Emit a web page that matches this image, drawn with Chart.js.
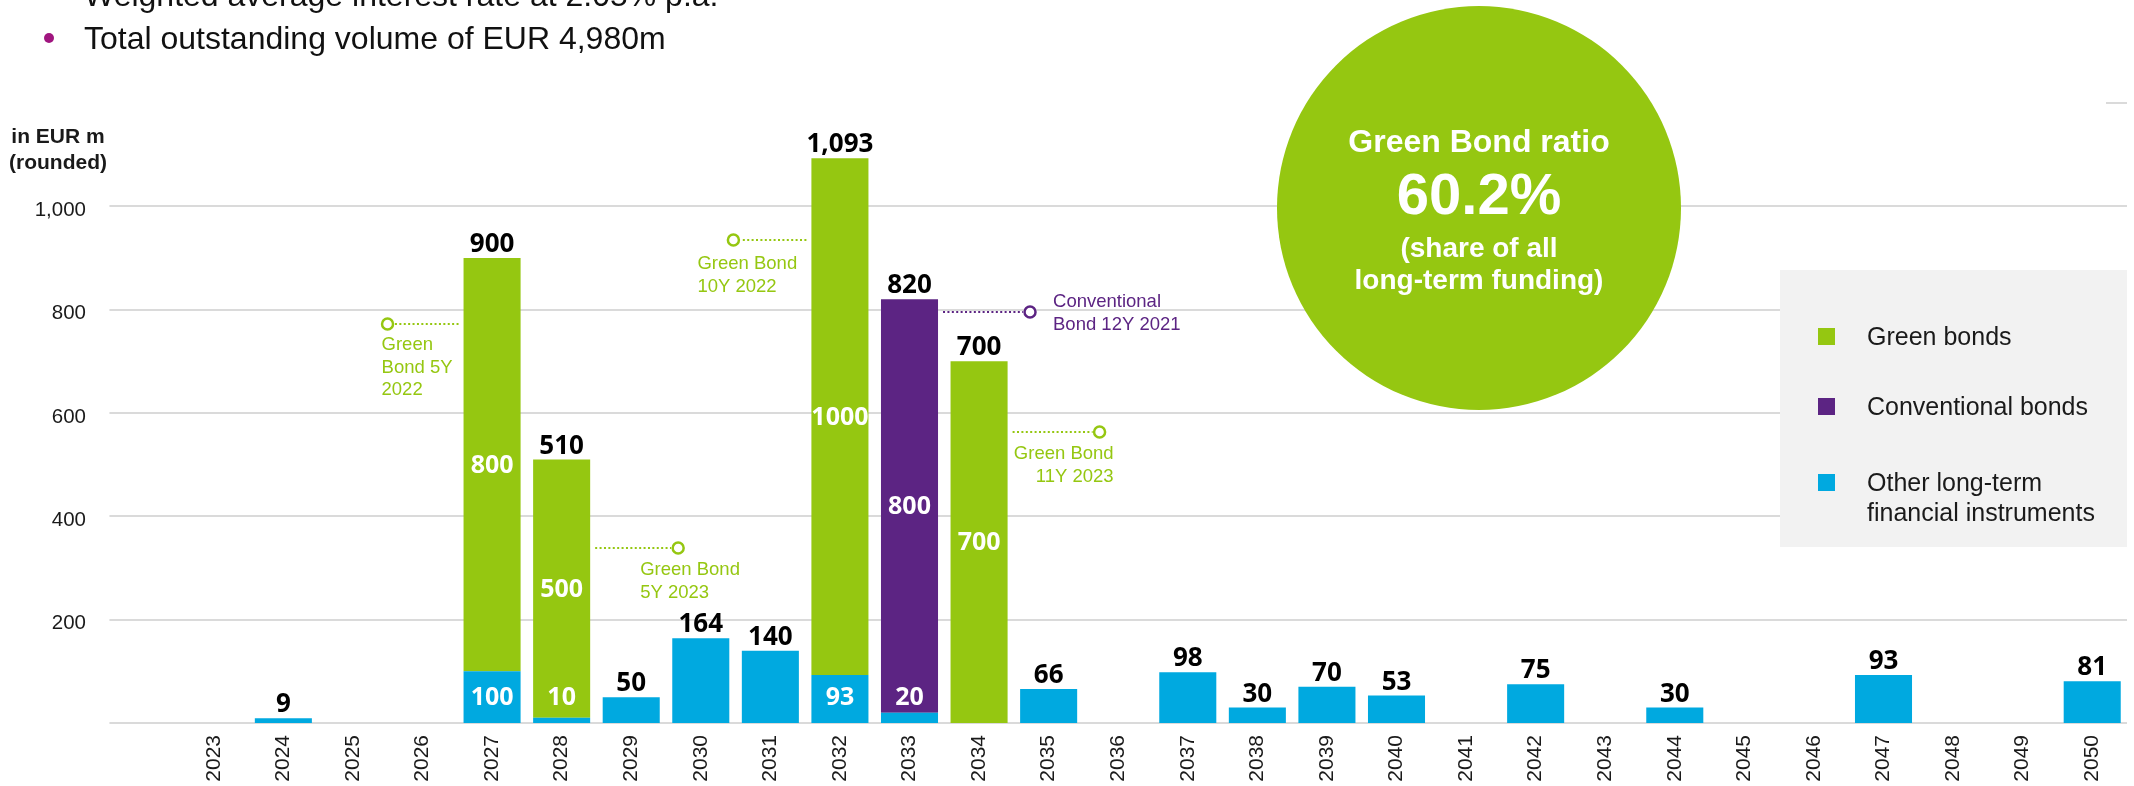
<!DOCTYPE html>
<html>
<head>
<meta charset="utf-8">
<title>Maturity profile of long-term funding</title>
<script src="https://cdn.jsdelivr.net/npm/chart.js@4/dist/chart.umd.min.js"></script>
<style>
  html, body { margin: 0; padding: 0; background: #ffffff; overflow: hidden; }
  #wrap { position: relative; width: 2134px; height: 786px; }
</style>
</head>
<body>
<div id="wrap"><canvas id="chart" width="2134" height="786"></canvas></div>
<script>
// ---- data (EUR m, rounded) ----
const years = ['2023','2024','2025','2026','2027','2028','2029','2030','2031','2032','2033','2034','2035','2036',
               '2037','2038','2039','2040','2041','2042','2043','2044','2045','2046','2047','2048','2049','2050'];
const otherInstruments = [null, 9, null, null, 100, 10, 50, 164, 140, 93, 20, null, 66, null,
                          98, 30, 70, 53, null, 75, null, 30, null, null, 93, null, null, 81];
const greenBonds = [null, null, null, null, 800, 500, null, null, null, 1000, null, 700, null, null,
                    null, null, null, null, null, null, null, null, null, null, null, null, null, null];
const conventionalBonds = [null, null, null, null, null, null, null, null, null, null, 800, null, null, null,
                           null, null, null, null, null, null, null, null, null, null, null, null, null, null];
const yTickValues = [200, 400, 600, 800, 1000];
const greenBondRatio = '60.2%';
const headerLines = ['Weighted average interest rate at 2.05% p.a.', 'Total outstanding volume of EUR 4,980m'];

// ---- styling ----
const GREEN = '#95c711';
const PURPLE = '#5c2483';
const BLUE = '#00a9e0';
const GRID = '#dadada';
const INK = '#1a1a1a';
const SANS = '"Liberation Sans", Arial, sans-serif';
const NUM = '"Open Sans", "Liberation Sans", sans-serif';

// Callouts for the individual bond issues, anchored to a bar edge and a y value
const bondNotes = [
  { year: '2027', value: 772, side: 'left',  reach: 76, color: GREEN,  lines: ['Green', 'Bond 5Y', '2022'],
    textDx: -6, textDy: 21, align: 'left' },
  { year: '2028', value: 339, side: 'right', reach: 88, color: GREEN,  lines: ['Green Bond', '5Y 2023'],
    textDx: -38, textDy: 22, align: 'left' },
  { year: '2032', value: 935, side: 'left',  reach: 78, color: GREEN,  lines: ['Green Bond', '10Y 2022'],
    textDx: -36, textDy: 24, align: 'left' },
  { year: '2033', value: 795, side: 'right', reach: 92, color: PURPLE, lines: ['Conventional', 'Bond 12Y 2021'],
    textDx: 23, textDy: -10, align: 'left' },
  { year: '2034', value: 563, side: 'right', reach: 92, color: GREEN,  lines: ['Green Bond', '11Y 2023'],
    textDx: 14, textDy: 22, align: 'right' }
];

const fmt = v => v.toLocaleString('en-US');

// Horizontal grid, extended one category slot to the left of the first year
const gridPlugin = {
  id: 'gridPlugin',
  beforeDatasetsDraw(chart) {
    const { ctx, chartArea, scales: { y } } = chart;
    const step = (chartArea.right - chartArea.left) / years.length;
    const left = chartArea.left - step;
    ctx.save();
    ctx.strokeStyle = GRID;
    ctx.lineWidth = 2;
    [0, ...yTickValues].forEach(v => {
      const py = Math.round(y.getPixelForValue(v));
      ctx.beginPath();
      ctx.moveTo(left, py);
      ctx.lineTo(chartArea.right, py);
      ctx.stroke();
    });
    const top = Math.round(y.getPixelForValue(1200));
    ctx.beginPath();
    ctx.moveTo(chartArea.right - 21, top);
    ctx.lineTo(chartArea.right, top);
    ctx.stroke();
    ctx.restore();
  }
};

// Totals above each bar and segment values inside the bond bars
const valueLabels = {
  id: 'valueLabels',
  afterDatasetsDraw(chart) {
    const { ctx, scales: { x, y } } = chart;
    ctx.save();
    ctx.textAlign = 'center';
    years.forEach((yr, i) => {
      const parts = chart.data.datasets.map(ds => ds.data[i] || 0);
      const total = parts.reduce((a, b) => a + b, 0);
      if (!total) return;
      const px = x.getPixelForValue(i);
      ctx.fillStyle = '#000';
      ctx.font = `bold 26px ${NUM}`;
      ctx.textBaseline = 'alphabetic';
      ctx.fillText(fmt(total), px, y.getPixelForValue(total) - 6);
      const hasBond = (greenBonds[i] || 0) + (conventionalBonds[i] || 0) > 0;
      if (!hasBond) return;
      ctx.fillStyle = '#ffffff';
      ctx.font = `bold 25px ${NUM}`;
      ctx.textBaseline = 'middle';
      let base = 0;
      parts.forEach((v, k) => {
        if (!v) return;
        const mid = k === 0 ? Math.max(v / 2, 50) : base + v / 2;
        ctx.fillText(String(v), px, y.getPixelForValue(mid) + 1);
        base += v;
      });
    });
    ctx.restore();
  }
};

// Issue callouts, ratio badge, legend panel and header text
const overlay = {
  id: 'overlay',
  afterDraw(chart) {
    const { ctx, chartArea, scales: { x, y } } = chart;
    const meta = chart.getDatasetMeta(0);
    const barHalf = meta.data[0] ? meta.data[0].width / 2 : 28.5;
    ctx.save();

    // callouts
    bondNotes.forEach(n => {
      const i = years.indexOf(n.year);
      const cx = x.getPixelForValue(i);
      const py = Math.round(y.getPixelForValue(n.value));
      const edge = n.side === 'left' ? cx - barHalf : cx + barHalf;
      const dir = n.side === 'left' ? -1 : 1;
      const mx = edge + dir * n.reach;
      ctx.strokeStyle = n.color;
      ctx.lineWidth = 2;
      ctx.setLineDash([2, 2.4]);
      ctx.beginPath();
      ctx.moveTo(edge + dir * 5, py);
      ctx.lineTo(mx - dir * 7, py);
      ctx.stroke();
      ctx.setLineDash([]);
      ctx.lineWidth = 2.5;
      ctx.fillStyle = '#ffffff';
      ctx.beginPath();
      ctx.arc(mx, py, 5.5, 0, Math.PI * 2);
      ctx.fill();
      ctx.stroke();
      ctx.fillStyle = n.color;
      ctx.font = `18.5px ${SANS}`;
      ctx.textBaseline = 'middle';
      ctx.textAlign = n.align;
      n.lines.forEach((t, k) => ctx.fillText(t, mx + n.textDx, py + n.textDy + k * 22.5));
    });

    // ratio badge
    ctx.fillStyle = GREEN;
    ctx.beginPath();
    ctx.arc(1479, 208, 202, 0, Math.PI * 2);
    ctx.fill();
    ctx.fillStyle = '#ffffff';
    ctx.textAlign = 'center';
    ctx.textBaseline = 'middle';
    ctx.font = `bold 32px ${SANS}`;
    ctx.fillText('Green Bond ratio', 1479, 143);
    ctx.font = `bold 58px ${SANS}`;
    ctx.fillText(greenBondRatio, 1479, 198);
    ctx.font = `bold 28px ${SANS}`;
    ctx.fillText('(share of all', 1479, 249);
    ctx.fillText('long-term funding)', 1479, 281);

    // legend panel
    ctx.fillStyle = '#f2f2f2';
    ctx.fillRect(1780, 270, chartArea.right - 1780, 277);
    const order = [1, 2, 0];
    const rows = [[337], [407], [483, 513]];
    const legendText = [['Green bonds'], ['Conventional bonds'], ['Other long-term', 'financial instruments']];
    order.forEach((di, r) => {
      const ds = chart.data.datasets[di];
      ctx.fillStyle = ds.backgroundColor;
      ctx.fillRect(1818, rows[r][0] - 9, 17, 17);
      ctx.fillStyle = INK;
      ctx.font = `25px ${SANS}`;
      ctx.textAlign = 'left';
      ctx.textBaseline = 'middle';
      legendText[r].forEach((t, k) => ctx.fillText(t, 1867, rows[r][k] + 1));
    });

    // unit caption
    ctx.fillStyle = INK;
    ctx.font = `bold 21px ${SANS}`;
    ctx.textAlign = 'center';
    ctx.textBaseline = 'middle';
    ctx.fillText('in EUR m', 58, 137);
    ctx.fillText('(rounded)', 58, 163);

    // header bullets
    ctx.textAlign = 'left';
    ctx.textBaseline = 'alphabetic';
    ctx.font = `32px ${SANS}`;
    const baselines = [6, 49];
    headerLines.forEach((t, k) => {
      ctx.fillStyle = '#a0157f';
      ctx.beginPath();
      ctx.arc(49, baselines[k] - 11, 5, 0, Math.PI * 2);
      ctx.fill();
      ctx.fillStyle = '#111111';
      ctx.fillText(t, 84, baselines[k]);
    });
    ctx.restore();
  }
};

new Chart(document.getElementById('chart'), {
  type: 'bar',
  data: {
    labels: years,
    datasets: [
      { label: 'Other long-term financial instruments', data: otherInstruments, backgroundColor: BLUE },
      { label: 'Green bonds', data: greenBonds, backgroundColor: GREEN },
      { label: 'Conventional bonds', data: conventionalBonds, backgroundColor: PURPLE }
    ]
  },
  options: {
    responsive: false,
    animation: false,
    layout: { padding: { top: 103, right: 7, left: 0, bottom: 0 } },
    datasets: { bar: { categoryPercentage: 1, barPercentage: 0.82, borderWidth: 0 } },
    plugins: { legend: { display: false }, tooltip: { enabled: false } },
    scales: {
      x: {
        stacked: true,
        offset: true,
        grid: { display: false, drawTicks: true, tickLength: 8 },
        border: { display: false },
        ticks: {
          autoSkip: false, minRotation: 90, maxRotation: 90, padding: 4,
          color: INK, font: { family: SANS, size: 21 }
        },
        afterFit(s) { s.height = 63; }
      },
      y: {
        stacked: true,
        min: 0,
        max: 1200,
        grid: { display: false, drawTicks: true, tickLength: 93 },
        border: { display: false },
        ticks: {
          stepSize: 200, padding: 0, labelOffset: 4, color: INK, font: { family: SANS, size: 20.5 },
          callback: v => yTickValues.includes(v) ? fmt(v) : ''
        },
        afterFit(s) { s.width = 179; }
      }
    }
  },
  plugins: [gridPlugin, valueLabels, overlay]
});
</script>
</body>
</html>
